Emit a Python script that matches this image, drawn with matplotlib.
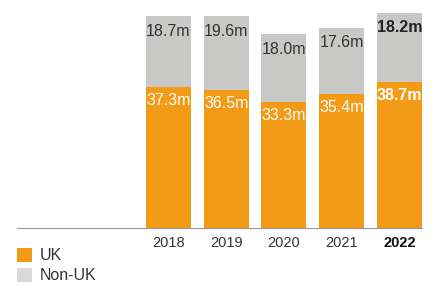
import matplotlib
matplotlib.use("Agg")
import matplotlib.pyplot as plt
from matplotlib.patches import Rectangle

plt.rcParams['font.family'] = ['Liberation Sans', 'DejaVu Sans']

years = ['2018', '2019', '2020', '2021', '2022']
uk = [37.3, 36.5, 33.3, 35.4, 38.7]
non_uk = [18.7, 19.6, 18.0, 17.6, 18.2]

orange = '#F39A17'
grey = '#C8C8C7'
text_col = '#333333'

fig = plt.figure(figsize=(4.36, 2.85), dpi=100)
ax = fig.add_axes([17/436, 0.2, 405/436, 0.8])

x = list(range(len(years)))
w = 0.78
ax.bar(x, uk, width=w, color=orange, linewidth=0)
ax.bar(x, non_uk, width=w, bottom=uk, color=grey, linewidth=0)

for i in x:
    bold = 'bold' if i == len(years) - 1 else 'normal'
    top = uk[i] + non_uk[i]
    ax.text(i, top - 4.0, '%.1fm' % non_uk[i], ha='center', va='center',
            fontsize=11.5, color='#222222' if bold == 'bold' else text_col,
            fontweight=bold)
    ax.text(i, uk[i] - 3.6, '%.1fm' % uk[i], ha='center', va='center',
            fontsize=11.5, color='white', fontweight=bold)

ax.set_xlim(-2.62, 4.39)
ax.set_ylim(0, 60.3)
ax.set_xticks(x)
ax.set_xticklabels(years, fontsize=10.5, color=text_col)
ax.get_xticklabels()[-1].set_fontweight('bold')
ax.get_xticklabels()[-1].set_color('#111111')
ax.tick_params(axis='x', length=0, pad=6)
ax.set_yticks([])
for s in ['top', 'right', 'left']:
    ax.spines[s].set_visible(False)
ax.spines['bottom'].set_color('#999999')
ax.spines['bottom'].set_linewidth(0.8)

# legend
fig.patches.append(Rectangle((17/436, 1 - 262/285), 15/436, 14/285,
                             transform=fig.transFigure, color=orange, lw=0))
fig.patches.append(Rectangle((17/436, 1 - 282/285), 15/436, 14/285,
                             transform=fig.transFigure, color='#D9D9D9', lw=0))
fig.text(40/436, 1 - 255/285, 'UK', fontsize=11.5, color=text_col, va='center')
fig.text(40/436, 1 - 276/285, 'Non-UK', fontsize=11.5, color=text_col, va='center')

fig.savefig('out.png', dpi=100)
